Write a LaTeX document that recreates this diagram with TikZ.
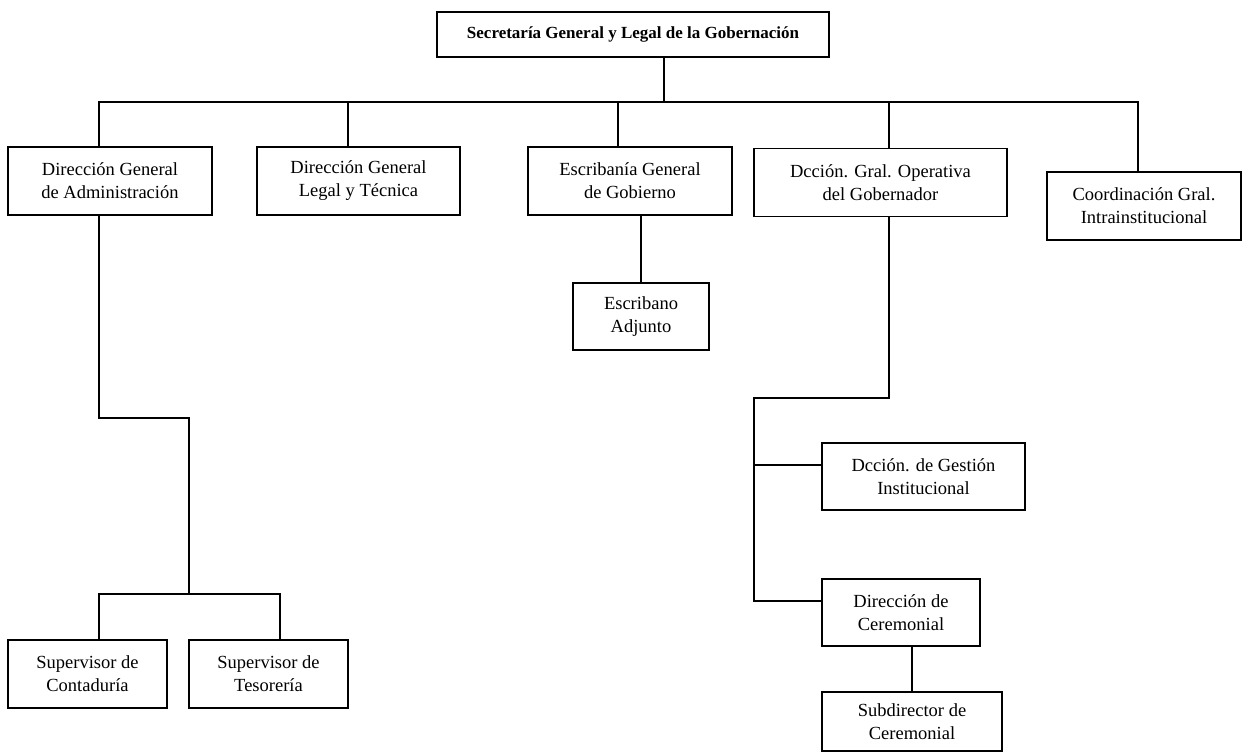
\documentclass[tikz,border=0pt]{standalone}
\usepackage{fontspec}
\setmainfont{Liberation Serif}
\begin{document}
\begin{tikzpicture}[x=1pt,y=-1pt,
  line width=1.6pt,
  box/.style={draw, line width=1.6pt, align=center, inner sep=0pt,
    font=\fontsize{18.5}{23}\selectfont},
  conn/.style={line width=1.6pt, line cap=rect}]
\useasboundingbox (0,0) rectangle (1243,755);
% boxes
\node[box, font=\bfseries\fontsize{17}{23}\selectfont, minimum width=392pt, minimum height=45pt] (top) at (633,34.5) {Secretaría General y Legal de la Gobernación};
\node[box, minimum width=204pt, minimum height=68pt] (admin) at (110,181) {Dirección General\\de Administración};
\node[box, minimum width=203pt, minimum height=68pt] (legal) at (358.5,181) {Dirección General\\Legal y Técnica};
\node[box, minimum width=204pt, minimum height=68pt] (escrib) at (630,181) {Escribanía General\\de Gobierno};
\node[box, minimum width=253pt, minimum height=68pt] (dgo) at (880.5,182.5) {Dcción. Gral. Operativa\\del Gobernador};
\node[box, minimum width=194pt, minimum height=68pt] (coord) at (1144,206) {Coordinación Gral.\\Intrainstitucional};
\node[box, minimum width=136pt, minimum height=67pt] (adj) at (641,316.5) {Escribano\\Adjunto};
\node[box, minimum width=159pt, minimum height=68pt] (cont) at (87.5,674) {Supervisor de\\Contaduría};
\node[box, minimum width=159pt, minimum height=68pt] (teso) at (268.5,674) {Supervisor de\\Tesorería};
\node[box, minimum width=203pt, minimum height=67pt] (gest) at (923.5,476.5) {Dcción. de Gestión\\Institucional};
\node[box, minimum width=158pt, minimum height=67pt] (cere) at (901,612.5) {Dirección de\\Ceremonial};
\node[box, minimum width=180pt, minimum height=59pt] (sub) at (912,721.5) {Subdirector de\\Ceremonial};
% junctions
\coordinate (jA) at (99,102);
\coordinate (jL) at (348,102);
\coordinate (jE) at (618,102);
\coordinate (jT) at (664,102);
\coordinate (jD) at (889,102);
\coordinate (jC) at (1138,102);
\coordinate (a1) at (99,418);
\coordinate (a2) at (189,418);
\coordinate (sM) at (189,594);
\coordinate (sL) at (99,594);
\coordinate (sR) at (280,594);
\coordinate (d1) at (889,398);
\coordinate (d2) at (754,398);
\coordinate (d3) at (754,601);
\coordinate (d4) at (754,465);
% connectors
\draw[conn] (jA) -- (jC);
\draw[conn] (top.south -| jT) -- (jT);
\draw[conn] (jA) -- (jA |- admin.north);
\draw[conn] (jL) -- (jL |- legal.north);
\draw[conn] (jE) -- (jE |- escrib.north);
\draw[conn] (jD) -- (jD |- dgo.north);
\draw[conn] (jC) -- (jC |- coord.north);
\draw[conn] (escrib.south -| adj.north) -- (adj.north);
\draw[conn] (admin.south -| a1) -- (a1) -- (a2) -- (sM);
\draw[conn] (sL) -- (sR);
\draw[conn] (sL) -- (sL |- cont.north);
\draw[conn] (sR) -- (sR |- teso.north);
\draw[conn] (dgo.south -| d1) -- (d1) -- (d2) -- (d3) -- (d3 -| cere.west);
\draw[conn] (d4) -- (d4 -| gest.west);
\draw[conn] (cere.south -| sub.north) -- (sub.north);
\end{tikzpicture}
\end{document}
